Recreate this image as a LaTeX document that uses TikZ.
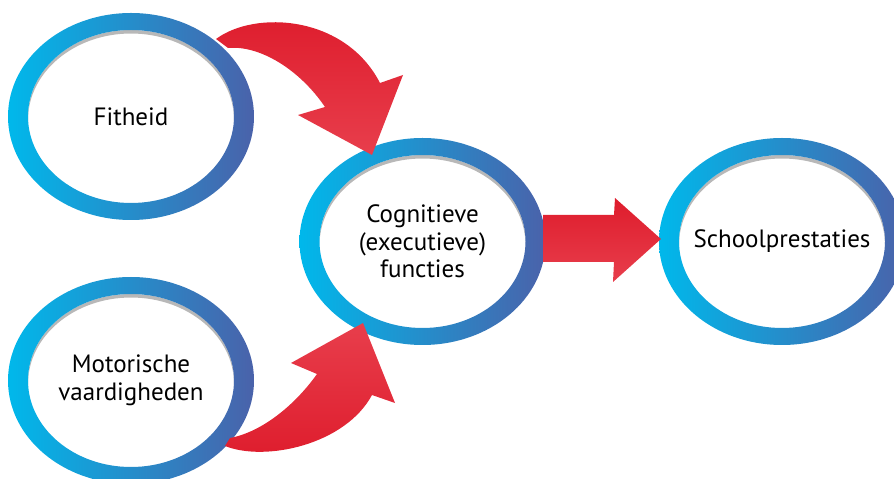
\documentclass[tikz,border=0pt]{standalone}
\usepackage{fontspec}
\setmainfont{PT Sans}
\usetikzlibrary{calc,shapes.geometric}

\definecolor{ringcyan}{RGB}{0,184,235}
\definecolor{ringblue}{RGB}{74,98,170}
\definecolor{pijlrood}{RGB}{232,62,76}
\definecolor{pijldonker}{RGB}{222,28,44}

\begin{document}
\begin{tikzpicture}[
    blok/.style={ellipse, minimum width=6.15cm, minimum height=5.175cm,
      align=center, font=\fontsize{17.8}{19.5}\selectfont}
  ]
  \useasboundingbox (0,0) rectangle (22.35,11.95);

  % de vier blokken
  \node[blok] (fit) at (3.275,9.0375) {Fitheid};
  \node[blok] (mot) at (3.275,2.4375) {Motorische\\vaardigheden};
  \node[blok] (cog) at (10.5625,5.9125) {Cognitieve\\(executieve)\\functies};
  \node[blok] (school) at (19.55,5.9125) {Schoolprestaties};

  % ringen met schaduw aan de binnenkant
  \foreach \n in {fit,mot,cog,school} {
    \begin{scope}
      \clip (\n.center) ellipse (2.575 and 2.1625);
      \fill[black!28, even odd rule] ([yshift=-2.5pt]\n.center) ellipse (3.075 and 2.5875)
        ([yshift=-2.5pt]\n.center) ellipse (2.575 and 2.1625);
    \end{scope}
    \shade[left color=ringcyan, right color=ringblue, even odd rule]
      (\n.center) ellipse (3.075 and 2.5875) (\n.center) ellipse (2.575 and 2.1625);
  }

  % pijl Fitheid -> functies
  \coordinate (A1) at ($(fit.center)+(2.125,1.9375)$); % staart
  \coordinate (A2) at (9.5,9.875);
  \coordinate (A3) at (10.075,10.075);
  \coordinate (A4) at ($(cog.center)+(-1.2625,2.1625)$); % punt
  \coordinate (A5) at (7.45,9.075);
  \coordinate (A6) at (8.125,9.275);
  \coordinate (A7) at (5.7,10.75);
  \shade[top color=pijldonker, bottom color=pijlrood]
    (A1) .. controls (6.375,11.7) and (8.625,11.575) .. (A2) -- (A3) -- (A4) -- (A5)
    -- (A6) .. controls (7.5,10.2) and (6.5,10.825) .. (A7) -- cycle;

  % pijl Motorische vaardigheden -> functies
  \coordinate (B1) at ($(mot.center)+(2.35,-1.6375)$); % staart
  \coordinate (B2) at (9.3,2.075);
  \coordinate (B3) at (9.875,1.875);
  \coordinate (B4) at ($(cog.center)+(-1.4875,-2.0375)$); % punt
  \coordinate (B5) at (7.275,2.875);
  \coordinate (B6) at (7.925,2.6);
  \coordinate (B7) at (5.75,1.0);
  \shade[top color=pijlrood, bottom color=pijldonker]
    (B1) .. controls (6.625,0.4) and (8.625,0.825) .. (B2) -- (B3) -- (B4) -- (B5)
    -- (B6) .. controls (7.375,1.825) and (6.55,1.15) .. (B7) -- cycle;

  % rechte pijl functies -> Schoolprestaties
  \coordinate (C1) at (13.575,6.575);
  \coordinate (C2) at (15.35,6.575);
  \coordinate (C3) at (15.375,7.0);
  \coordinate (C4) at ($(school.west)+(0.275,0.0625)$); % punt
  \coordinate (C5) at (15.325,4.9);
  \coordinate (C6) at (15.35,5.4);
  \coordinate (C7) at (13.575,5.4);
  \shade[top color=pijldonker, bottom color=pijlrood]
    (C1) -- (C2) -- (C3) -- (C4) -- (C5) -- (C6) -- (C7) -- cycle;

\end{tikzpicture}
\end{document}
